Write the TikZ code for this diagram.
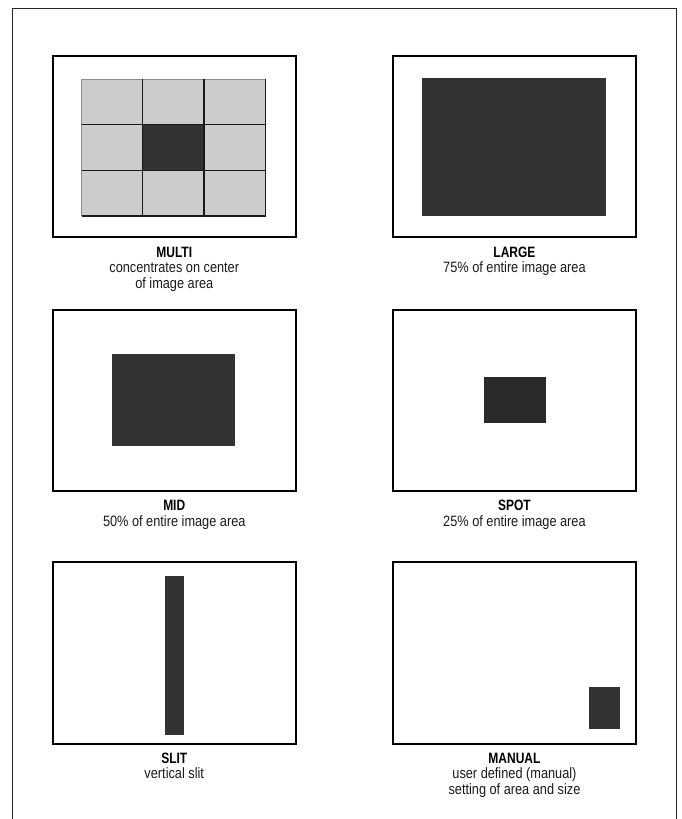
\documentclass[tikz,border=0pt]{standalone}
\usepackage{fontspec}
\setmainfont{Liberation Sans}
\newfontfamily\ttlfont{Liberation Sans}[FakeStretch=0.8]
\newfontfamily\dscfont{Liberation Sans}[FakeStretch=0.85]
\definecolor{dark}{HTML}{333333}
\definecolor{spotc}{HTML}{2A2A2A}
\definecolor{lightg}{HTML}{CCCCCC}
\definecolor{txtc}{HTML}{1A1A1A}
\tikzset{
  panel/.style={draw=black, line width=2pt, fill=white, minimum width=242.5pt,
    minimum height=181.5pt, inner sep=0pt, outer sep=0pt, anchor=north west},
  ttl/.style={anchor=base, inner sep=0pt, text=black, font=\ttlfont\bfseries\fontsize{15}{16}\selectfont},
  dsc/.style={anchor=base, inner sep=0pt, text=txtc, font=\dscfont\fontsize{15}{16}\selectfont},
  gridline/.style={draw=black!90, line width=1.1pt},
}
\begin{document}
\begin{tikzpicture}[x=1pt,y=-1pt]
\useasboundingbox (0,0) rectangle (681,819);
% outer frame (open at bottom)
\draw[line width=1.3pt, black!85] (12.2,819) -- (12.2,8.5) -- (676.8,8.5) -- (676.8,819);

% panels
\node[panel] (p1) at (53,55.8) {};
\node[panel] (p2) at (393.2,55.8) {};
\node[panel] (p3) at (53,309.8) {};
\node[panel] (p4) at (393.2,309.8) {};
\node[panel] (p5) at (53,562.3) {};
\node[panel] (p6) at (393.2,562.3) {};

% MULTI grid
\fill[lightg] (81.7,79) rectangle (265.7,216);
\fill[dark] (142.7,124.3) rectangle (204,170.3);
\draw[line width=1pt, black!45] (81.7,216) -- (81.7,79) -- (265.7,79);
\draw[gridline] (265.7,79) -- (265.7,216) -- (81.7,216);
\draw[gridline] (142.7,79) -- (142.7,216);
\draw[gridline] (204,79) -- (204,216);
\draw[gridline] (81.7,124.3) -- (265.7,124.3);
\draw[gridline] (81.7,170.3) -- (265.7,170.3);

% LARGE
\fill[dark] (421.7,77.7) rectangle (606,215.7);
% MID
\fill[dark] (111.7,353.7) rectangle (235,445.7);
% SPOT
\fill[spotc] (484,377) rectangle (546,422.7);
% SLIT
\fill[dark] (165,576) rectangle (184,734.7);
% MANUAL
\fill[dark] (589,687) rectangle (620,728.7);

% labels
\node[ttl] (t1) at (174.25,257.3) {MULTI};
\node[dsc] (d1a) at (174.25,272.8) {concentrates on center};
\node[dsc] (d1b) at (174.25,288.3) {of image area};

\node[ttl] (t2) at (514.45,257.3) {LARGE};
\node[dsc] (d2a) at (514.45,272.8) {75\% of entire image area};

\node[ttl] (t3) at (174.25,510.5) {MID};
\node[dsc] (d3a) at (174.25,526) {50\% of entire image area};

\node[ttl] (t4) at (514.45,510.5) {SPOT};
\node[dsc] (d4a) at (514.45,526) {25\% of entire image area};

\node[ttl] (t5) at (174.25,763.3) {SLIT};
\node[dsc] (d5a) at (174.25,778.8) {vertical slit};

\node[ttl] (t6) at (514.45,763.3) {MANUAL};
\node[dsc] (d6a) at (514.45,778.8) {user defined (manual)};
\node[dsc] (d6b) at (514.45,794.3) {setting of area and size};
\end{tikzpicture}
\end{document}
